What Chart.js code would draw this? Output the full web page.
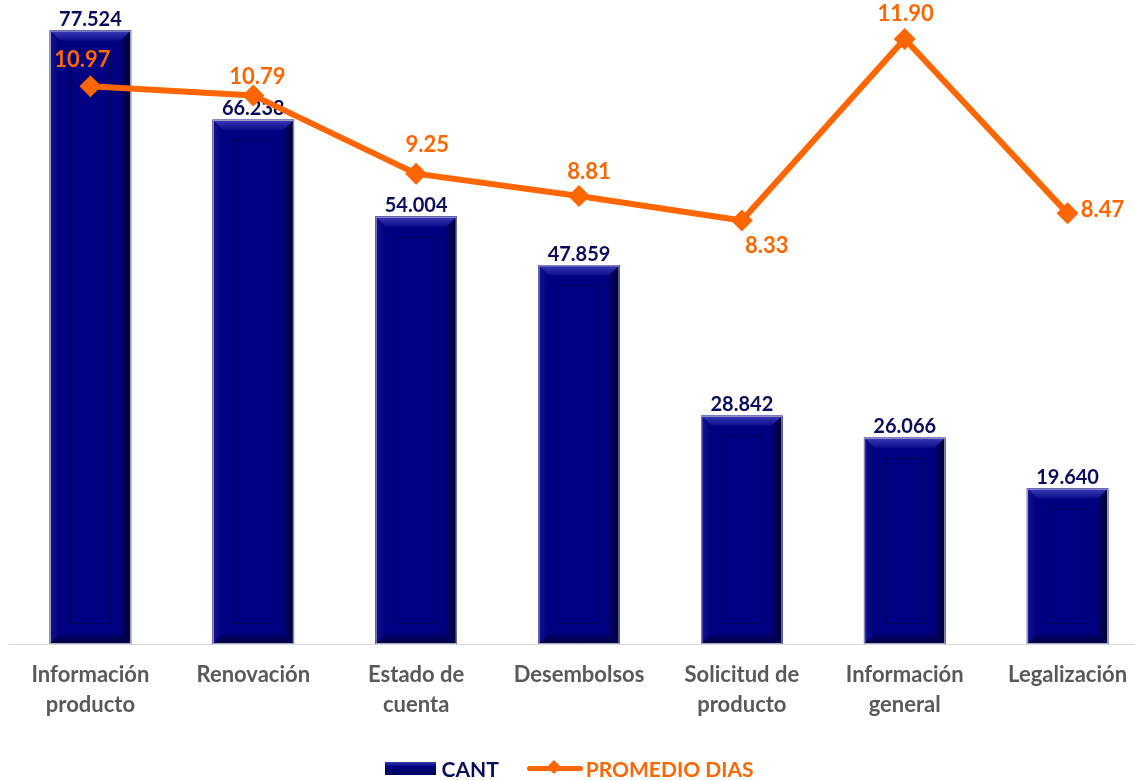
<!DOCTYPE html>
<html lang="es">
<head>
  <meta charset="UTF-8">
  <title>CANT y PROMEDIO DIAS</title>
  <script src="https://cdn.jsdelivr.net/npm/chart.js"></script>
  <style>
    html, body { margin: 0; padding: 0; background: #fff; overflow: hidden; }
    .wrap { position: relative; width: 1162px; height: 780px; margin-left: -2px; }
    .legend {
      position: absolute; top: 756px; left: 2px; width: 1135px;
      display: flex; justify-content: center; align-items: center;
      font-family: Lato, sans-serif; font-weight: 700; font-size: 21px;
      padding-left: 2px;
    }
    .legend .item { display: flex; align-items: center; }
    .legend .box {
      width: 51px; height: 13px; margin-right: 5px;
      background: linear-gradient(#3a3ab0, #000080 35%, #000060);
    }
    .legend .ln { position: relative; width: 56px; height: 5px; background: #ff6600; margin-right: 3px; border-radius: 3px; }
    .legend .ln::after {
      content: ''; position: absolute; left: 22px; top: -4px; width: 10px; height: 10px;
      background: #ff6600; transform: rotate(45deg);
    }
  </style>
</head>
<body>
<div class="wrap">
  <canvas id="chart" width="1162" height="780"></canvas>
  <div class="legend">
    <div class="item" style="color:#0b0b5c;margin-right:28px"><span class="box"></span>CANT</div>
    <div class="item" style="color:#ff6600"><span class="ln"></span>PROMEDIO DIAS</div>
  </div>
</div>

<script>
// chart data
var categories = [['Información', 'producto'], 'Renovación', ['Estado de', 'cuenta'], 'Desembolsos',
  ['Solicitud de', 'producto'], ['Información', 'general'], 'Legalización'];
var cant = [77524, 66238, 54004, 47859, 28842, 26066, 19640];
var promedioDias = [10.97, 10.79, 9.25, 8.81, 8.33, 11.90, 8.47];

// where each orange label sits relative to its point (dx, dy)
var lineLabelOffsets = [[-8, -26], [4, -18], [11, -29], [10, -24], [25, 25], [1, -25], [35, -3]];

function fmtThousands(v) {
  return String(v).replace(/\B(?=(\d{3})+(?!\d))/g, '.');
}

// bevelled bars + value labels on top
var bevelPlugin = {
  id: 'bevel',
  afterDatasetDraw: function(chart, args) {
    if (args.index !== 0) return;
    var ctx = chart.ctx;
    var meta = chart.getDatasetMeta(0);
    meta.data.forEach(function(bar, i) {
      var p = bar.getProps(['x', 'y', 'width', 'base'], true);
      var l = p.x - p.width / 2, r = p.x + p.width / 2, t = p.y, b = p.base;
      var bv = 10, inset = 20;
      ctx.save();
      // top bevel
      var g = ctx.createLinearGradient(0, t, 0, t + bv);
      g.addColorStop(0, '#3c3cba'); g.addColorStop(1, '#0c0c8c');
      ctx.fillStyle = g;
      ctx.beginPath(); ctx.moveTo(l, t); ctx.lineTo(r, t); ctx.lineTo(r - bv, t + bv); ctx.lineTo(l + bv, t + bv); ctx.closePath(); ctx.fill();
      // left bevel
      g = ctx.createLinearGradient(l, 0, l + bv, 0);
      g.addColorStop(0, '#14148e'); g.addColorStop(1, '#000080');
      ctx.fillStyle = g;
      ctx.beginPath(); ctx.moveTo(l, t); ctx.lineTo(l + bv, t + bv); ctx.lineTo(l + bv, b - bv); ctx.lineTo(l, b); ctx.closePath(); ctx.fill();
      // right bevel
      g = ctx.createLinearGradient(r - bv, 0, r, 0);
      g.addColorStop(0, '#00006a'); g.addColorStop(1, '#000030');
      ctx.fillStyle = g;
      ctx.beginPath(); ctx.moveTo(r, t); ctx.lineTo(r, b); ctx.lineTo(r - bv, b - bv); ctx.lineTo(r - bv, t + bv); ctx.closePath(); ctx.fill();
      // bottom bevel
      g = ctx.createLinearGradient(0, b - bv, 0, b);
      g.addColorStop(0, '#000070'); g.addColorStop(1, '#00003c');
      ctx.fillStyle = g;
      ctx.beginPath(); ctx.moveTo(l, b); ctx.lineTo(l + bv, b - bv); ctx.lineTo(r - bv, b - bv); ctx.lineTo(r, b); ctx.closePath(); ctx.fill();
      // inner frame
      ctx.strokeStyle = 'rgba(0,0,60,0.55)';
      ctx.lineWidth = 1;
      if (b - t > inset * 2 + 4) ctx.strokeRect(l + inset + 0.5, t + inset + 0.5, p.width - inset * 2 - 1, b - t - inset * 2 - 1);
      // outer edge
      ctx.strokeStyle = '#a8a8c8';
      ctx.strokeRect(l + 0.5, t + 0.5, p.width - 1, b - t - 1);
      // value label
      ctx.fillStyle = '#0b0b5c';
      ctx.font = 'bold 20px Lato';
      ctx.textAlign = 'center';
      ctx.textBaseline = 'bottom';
      ctx.fillText(fmtThousands(cant[i]), p.x, t - 1);
      ctx.restore();
    });
  },
  afterDatasetsDraw: function(chart) {
    var ctx = chart.ctx;
    var meta = chart.getDatasetMeta(1);
    ctx.save();
    ctx.fillStyle = '#ff6600';
    ctx.font = 'bold 22px Lato';
    ctx.textAlign = 'center';
    ctx.textBaseline = 'middle';
    meta.data.forEach(function(pt, i) {
      var o = lineLabelOffsets[i];
      ctx.fillText(promedioDias[i].toFixed(2), pt.x + o[0], pt.y + o[1]);
    });
    ctx.restore();
  }
};

var ctx = document.getElementById('chart').getContext('2d');
new Chart(ctx, {
  data: {
    labels: categories,
    datasets: [
      {
        type: 'bar',
        label: 'CANT',
        data: cant,
        yAxisID: 'y',
        backgroundColor: '#000080',
        borderWidth: 0,
        barThickness: 81,
        order: 1
      },
      {
        type: 'line',
        label: 'PROMEDIO DIAS',
        data: promedioDias,
        yAxisID: 'y2',
        borderColor: '#ff6600',
        backgroundColor: '#ff6600',
        borderWidth: 6,
        pointStyle: 'rectRot',
        pointRadius: 11,
        pointHoverRadius: 11,
        pointBorderWidth: 0,
        tension: 0,
        order: 0
      }
    ]
  },
  options: {
    responsive: false,
    animation: false,
    layout: { padding: { left: 0, right: 3, top: 4, bottom: 44 } },
    scales: {
      x: {
        grid: { display: false, drawTicks: false },
        border: { display: true, color: '#d9d9d9', width: 1 },
        ticks: {
          padding: 16,
          color: '#595959',
          font: { family: 'Lato', weight: 'bold', size: 22, lineHeight: '30px' },
          maxRotation: 0,
          autoSkip: false
        }
      },
      y: { display: false, min: 0, max: 80000 },
      y2: { display: false, min: 0, max: 12.45 }
    },
    plugins: {
      legend: { display: false },
      tooltip: { enabled: false }
    }
  },
  plugins: [bevelPlugin]
});
</script>
</body>
</html>
